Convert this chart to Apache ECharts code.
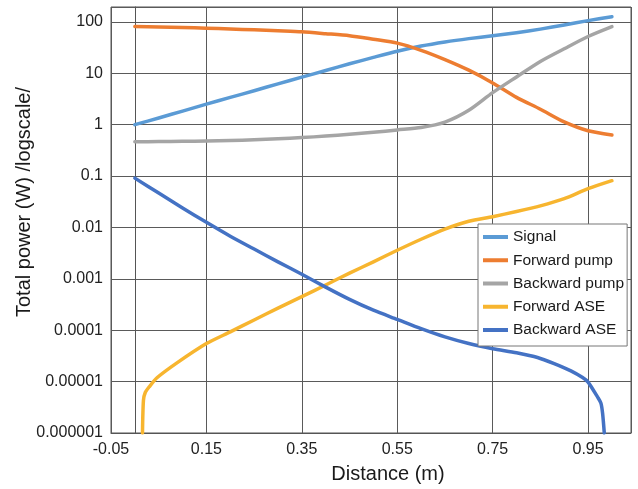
<!DOCTYPE html>
<html>
<head>
<meta charset="utf-8">
<script src="https://cdn.jsdelivr.net/npm/echarts@6/dist/echarts.min.js"></script>
<style>
html,body{margin:0;padding:0;background:#fff;}
#chart{width:638px;height:489px;}
</style>
</head>
<body>
<div id="chart"></div>
<script>
// ---- data ----
const seriesNames = ['Signal', 'Forward pump', 'Backward pump', 'Forward ASE', 'Backward ASE'];
const seriesColors = ['#5B9BD5', '#ED7D31', '#A5A5A5', '#F7B52F', '#4472C4'];

const distance = [0, 0.05, 0.1, 0.15, 0.2, 0.25, 0.3, 0.35, 0.4, 0.45, 0.5, 0.55, 0.6, 0.65, 0.7, 0.75, 0.8, 0.85, 0.9, 0.95, 1.0];
const signal = [1, 1.35, 1.84, 2.51, 3.39, 4.57, 6.24, 8.41, 11.35, 15.3, 20.4, 26.9, 33.9, 40.7, 47.3, 53.7, 61.7, 72.4, 87.1, 106, 126];
const forwardPump = [81, 80, 78, 75.5, 73, 70, 67, 64, 59, 54, 46, 38.7, 28, 18.5, 11.5, 6.5, 3.4, 2.0, 1.13, 0.76, 0.63];
const backwardPump = [0.465, 0.47, 0.475, 0.48, 0.49, 0.51, 0.53, 0.56, 0.6, 0.65, 0.71, 0.79, 0.88, 1.12, 1.9, 4.2, 8.5, 17, 30, 52, 81];

const fwdAseDistance = [0.016, 0.018, 0.022, 0.03, 0.047, 0.089, 0.15, 0.2, 0.25, 0.3, 0.35, 0.4, 0.45, 0.5, 0.55, 0.6, 0.65, 0.7, 0.75, 0.8, 0.85, 0.9, 0.95, 1.0];
const forwardASE = [1e-6, 4.3e-6, 6.2e-6, 7.9e-6, 1.2e-5, 2.34e-5, 5.5e-5, 9.3e-5, 1.58e-4, 2.7e-4, 4.5e-4, 7.6e-4, 1.29e-3, 2.14e-3, 3.6e-3, 5.9e-3, 9.3e-3, 0.0132, 0.0162, 0.0204, 0.0263, 0.0363, 0.0568, 0.0813];

const bwdAseDistance = [0, 0.05, 0.1, 0.15, 0.2, 0.25, 0.3, 0.35, 0.4, 0.45, 0.5, 0.55, 0.6, 0.65, 0.7, 0.75, 0.8, 0.844, 0.879, 0.914, 0.9385, 0.95, 0.97, 0.977, 0.9805, 0.984];
const backwardASE = [0.0912, 0.0468, 0.024, 0.0126, 0.00676, 0.0038, 0.00214, 0.00123, 6.9e-4, 3.98e-4, 2.45e-4, 1.62e-4, 1.07e-4, 7.4e-5, 5.5e-5, 4.37e-5, 3.63e-5, 2.95e-5, 2.24e-5, 1.62e-5, 1.2e-5, 9.8e-6, 5.0e-6, 3.8e-6, 2.4e-6, 1e-6];

const xTickStart = -0.05, xTickStep = 0.2, xMax = 1.04;
const yMin = 1e-6, yMax = 195;
const xTitle = 'Distance (m)';
const yTitle = 'Total power (W) /logscale/';

// ---- chart ----
const FONT = "'Liberation Sans', Arial, Helvetica, sans-serif";
const zip = (xs, ys) => xs.map((x, i) => [x, ys[i]]);
const allData = [
  zip(distance, signal),
  zip(distance, forwardPump),
  zip(distance, backwardPump),
  zip(fwdAseDistance, forwardASE),
  zip(bwdAseDistance, backwardASE)
];

function yLabel(v) {
  const l = Math.log10(v);
  const e = Math.round(l);
  if (Math.abs(l - e) > 1e-6) return '';
  if (e >= 0) return String(Math.pow(10, e));
  return '0.' + '0'.repeat(-e - 1) + '1';
}
function xLabel(v) {
  const k = (v - xTickStart) / xTickStep;
  if (Math.abs(k - Math.round(k)) > 1e-6) return '';
  return v.toFixed(2);
}

const chart = echarts.init(document.getElementById('chart'), null, {renderer: 'canvas'});
chart.setOption({
  animation: false,
  backgroundColor: '#fff',
  textStyle: {fontFamily: FONT},
  grid: {left: 111, right: 7, top: 7, bottom: 53, show: true, borderColor: '#555', borderWidth: 1},
  legend: {
    data: seriesNames,
    orient: 'vertical',
    left: 478, top: 224,
    backgroundColor: '#fff',
    borderColor: '#777', borderWidth: 1, borderRadius: 0,
    padding: [4, 3, 7, 5],
    itemWidth: 25, itemHeight: 4, itemGap: 5.25,
    icon: 'rect',
    textStyle: {fontFamily: FONT, fontSize: 15.5, color: '#1a1a1a', lineHeight: 18}
  },
  xAxis: {
    type: 'value', min: xTickStart, max: xMax, interval: xTickStep,
    name: xTitle, nameLocation: 'middle', nameGap: 31, nameMoveOverlap: false,
    nameTextStyle: {fontFamily: FONT, fontSize: 20, color: '#1a1a1a', padding: [0, 0, 0, 34]},
    axisLine: {show: true, lineStyle: {color: '#555', width: 1}},
    axisTick: {show: false},
    axisLabel: {formatter: xLabel, fontFamily: FONT, fontSize: 16, color: '#222', margin: 9, showMaxLabel: false},
    splitLine: {show: true, lineStyle: {color: '#5a5a5a', width: 1}}
  },
  yAxis: {
    type: 'log', logBase: 10, min: yMin, max: yMax,
    name: yTitle, nameLocation: 'middle', nameGap: 77, nameMoveOverlap: false,
    nameTextStyle: {fontFamily: FONT, fontSize: 20, color: '#1a1a1a', padding: [0, 0, 0, 36]},
    axisLine: {show: true, lineStyle: {color: '#555', width: 1}},
    axisTick: {show: false},
    axisLabel: {formatter: yLabel, fontFamily: FONT, fontSize: 16, color: '#222', margin: 8},
    splitLine: {show: true, lineStyle: {color: '#5a5a5a', width: 1}},
    minorSplitLine: {show: false}
  },
  series: seriesNames.map((n, i) => ({
    name: n,
    type: 'line',
    data: allData[i],
    showSymbol: false,
    symbol: 'none',
    smooth: 0.25,
    clip: true,
    color: seriesColors[i],
    lineStyle: {color: seriesColors[i], width: 3.5, cap: 'round', join: 'round'},
    itemStyle: {color: seriesColors[i]}
  }))
});
</script>
</body>
</html>
